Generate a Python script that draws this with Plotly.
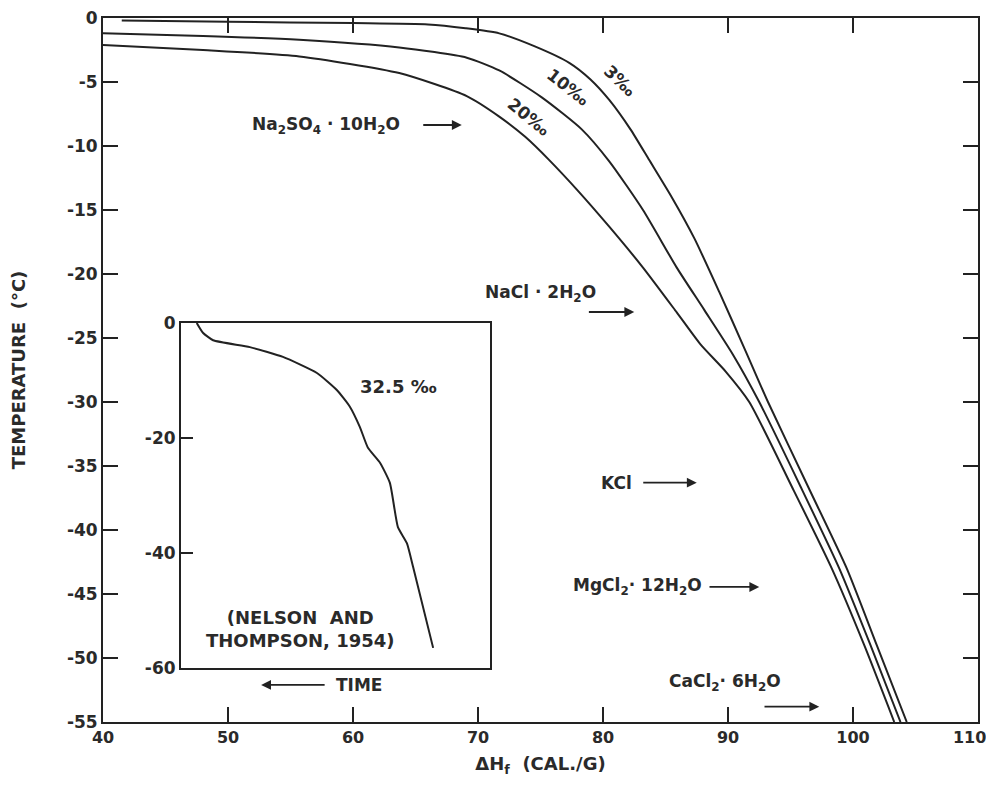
import plotly.graph_objects as go

# ---------------- data ----------------
# Main panel: temperature (°C) vs ΔHf (cal/g) for three salinities
dh_3 = [41.5, 50, 60, 66, 69, 71.7, 74.5, 77.3, 79.0, 80.5, 82.2, 83.7, 85.5, 87.3, 89.3, 91.4, 93.2, 96.4, 99.5, 101.9, 104.3]
t_3 = [-0.2, -0.3, -0.4, -0.5, -0.8, -1.2, -2.2, -3.5, -4.8, -6.4, -8.7, -11.1, -14.0, -17.2, -21.4, -26.0, -30.0, -36.6, -43.0, -49.0, -55.0]

dh_10 = [40, 48, 55.7, 63.7, 69.1, 71.7, 75.1, 78.3, 80.5, 83.2, 85.9, 88.1, 90.4, 92.5, 95.8, 98.9, 101.4, 103.8]
t_10 = [-1.2, -1.4, -1.7, -2.3, -3.1, -4.1, -6.2, -8.7, -11.2, -15.0, -19.5, -22.8, -26.3, -30.0, -36.6, -43.0, -49.0, -55.0]

dh_20 = [40, 48, 55.7, 63.7, 69.1, 71.7, 73.8, 75.7, 78.0, 80.5, 83.2, 85.9, 87.8, 89.8, 91.7, 95.1, 98.3, 100.9, 103.3]
t_20 = [-2.1, -2.5, -3.0, -4.3, -6.1, -7.7, -9.3, -11.1, -13.5, -16.3, -19.5, -23.0, -25.5, -27.6, -30.0, -36.6, -43.0, -49.0, -55.0]

# Inset: 32.5 ‰ cooling curve vs time (arbitrary time units, time runs right to left)
inset_time = [5.1, 7.1, 10.4, 22.3, 33.0, 44.0, 50.5, 54.7, 57.9, 60.5, 64.4, 67.6, 70.2, 73.1, 75.1, 81.6]
inset_temp = [0, -1.7, -3.0, -4.2, -5.9, -8.7, -11.7, -14.6, -18.1, -21.7, -24.3, -27.8, -35.5, -38.3, -42.4, -56.5]

x_ticks = [40, 50, 60, 70, 80, 90, 100, 110]
x_tick_labels = ["40", "50", "60", "70", "80", "90", "100", "110\u00a0\u00a0\u00a0"]
y_ticks = [0, -5, -10, -15, -20, -25, -30, -35, -40, -45, -50, -55]
y_tick_labels = ["0", "-5", "-10", "-15", "-20", "-25", "-30", "-35", "-40", "-45", "-50", "-55"]
inset_y_ticks = [0, -20, -40, -60]
inset_y_labels = ["0", "-20", "-40", "-60"]

curve_labels = ["3‰", "10‰", "20‰"]
curve_label_x = [81.4, 77.2, 74.1]
curve_label_y = [-4.9, -5.4, -7.7]
curve_label_angle = [44, 38, 39]

salt_labels = ["Na<sub>2</sub>SO<sub>4</sub> · 10H<sub>2</sub>O", "KCl",
               "MgCl<sub>2</sub>· 12H<sub>2</sub>O"]
salt_label_x = [63.9, 82.5, 88.1]
salt_label_y = [-8.36, -36.3, -44.45]

# arrows: tail x, head x, y
arrow_tail_x = [65.5, 78.75, 83.1, 88.4, 92.8, 57.85]
arrow_head_x = [68.7, 82.5, 87.5, 92.5, 97.3, 52.65]
arrow_y = [-8.36, -22.97, -36.3, -44.45, -53.8, -52.1]

INK = "#222222"
FONT = "DejaVu Sans"

fig = go.Figure()

for xs, ys in [(dh_3, t_3), (dh_10, t_10), (dh_20, t_20)]:
    fig.add_trace(go.Scatter(
        x=xs, y=ys, mode="lines", xaxis="x", yaxis="y",
        line=dict(color=INK, width=2, shape="spline", smoothing=0.6),
        showlegend=False, hoverinfo="skip"))

fig.add_trace(go.Scatter(
    x=inset_time, y=inset_temp, mode="lines", xaxis="x2", yaxis="y2",
    line=dict(color=INK, width=2, shape="spline", smoothing=0.5),
    showlegend=False, hoverinfo="skip"))

tick_font = dict(family=FONT, size=17, color="#2a2a2a", weight="bold")
xtick_font = dict(family=FONT, size=16, color="#2a2a2a", weight="bold")
ytitle_font = dict(family=FONT, size=18, color="#2a2a2a", weight="bold")
xtitle_font = dict(family=FONT, size=18, color="#2a2a2a", weight="bold")

fig.update_layout(
    width=986, height=769,
    margin=dict(l=95, r=16, t=10, b=55),
    paper_bgcolor="white", plot_bgcolor="white",
    showlegend=False,
    xaxis=dict(
        range=[40, 110], domain=[0, 1], anchor="y", automargin=False,
        tickvals=x_ticks, ticktext=x_tick_labels, ticklabeloverflow="allow",
        ticks="inside", ticklen=15, tickwidth=1.6, tickcolor=INK,
        showline=True, linecolor=INK, linewidth=2, mirror="ticks",
        showgrid=False, zeroline=False, tickfont=xtick_font,
        title=dict(text="ΔH<sub>f</sub>  (CAL./G)", font=xtitle_font, standoff=14),
    ),
    yaxis=dict(
        range=[-55, 0], domain=[0, 1], anchor="x", automargin=False,
        tickvals=y_ticks, ticktext=y_tick_labels, ticklabeloverflow="allow",
        ticks="inside", ticklen=15, tickwidth=1.6, tickcolor=INK,
        showline=True, linecolor=INK, linewidth=2, mirror="ticks",
        showgrid=False, zeroline=False, tickfont=tick_font,
        title=dict(text="TEMPERATURE  (°C)", font=ytitle_font, standoff=37),
    ),
    xaxis2=dict(
        range=[0, 100], domain=[0.0891, 0.4423], anchor="y2", automargin=False,
        showticklabels=False, ticks="",
        showline=True, linecolor=INK, linewidth=2, mirror=True,
        showgrid=False, zeroline=False,
    ),
    yaxis2=dict(
        range=[-60, 0], domain=[0.0767, 0.5668], anchor="x2", automargin=False,
        tickvals=inset_y_ticks, ticktext=inset_y_labels,
        ticks="inside", ticklen=12, tickwidth=1.6, tickcolor=INK,
        showline=True, linecolor=INK, linewidth=2, mirror=True,
        showgrid=False, zeroline=False, tickfont=tick_font,
    ),
)

ann_font = dict(family=FONT, size=17, color="#2a2a2a", weight="bold")
inset_font = dict(family=FONT, size=18, color="#2a2a2a", weight="bold")

for txt, x, y, a in zip(curve_labels, curve_label_x, curve_label_y, curve_label_angle):
    fig.add_annotation(x=x, y=y, xref="x", yref="y", text=txt, textangle=a,
                       showarrow=False, font=ann_font)

for txt, x, y in zip(salt_labels, salt_label_x, salt_label_y):
    fig.add_annotation(x=x, y=y, xref="x", yref="y", text=txt, xanchor="right",
                       showarrow=False, font=ann_font)

fig.add_annotation(x=75.0, y=-21.5, xref="x", yref="y",
                   text="NaCl · 2H<sub>2</sub>O", showarrow=False, font=ann_font)
fig.add_annotation(x=94.4, y=-51.95, xref="x", yref="y", xanchor="right",
                   text="CaCl<sub>2</sub>· 6H<sub>2</sub>O", showarrow=False, font=ann_font)
fig.add_annotation(x=58.5, y=-52.1, xref="x", yref="y", xanchor="left",
                   text="TIME", showarrow=False, font=ann_font)
fig.add_annotation(x=63.6, y=-28.8, xref="x", yref="y",
                   text="32.5 ‰", showarrow=False, font=inset_font)
fig.add_annotation(x=55.8, y=-47.7, xref="x", yref="y",
                   text="(NELSON  AND<br>THOMPSON, 1954)", showarrow=False,
                   font=inset_font, align="center")

for tx, hx, y in zip(arrow_tail_x, arrow_head_x, arrow_y):
    fig.add_annotation(x=hx, y=y, ax=tx, ay=y, xref="x", yref="y",
                       axref="x", ayref="y", text="", showarrow=True,
                       arrowhead=2, arrowsize=1.1, arrowwidth=1.8, arrowcolor=INK)

fig.write_html("out.html")
